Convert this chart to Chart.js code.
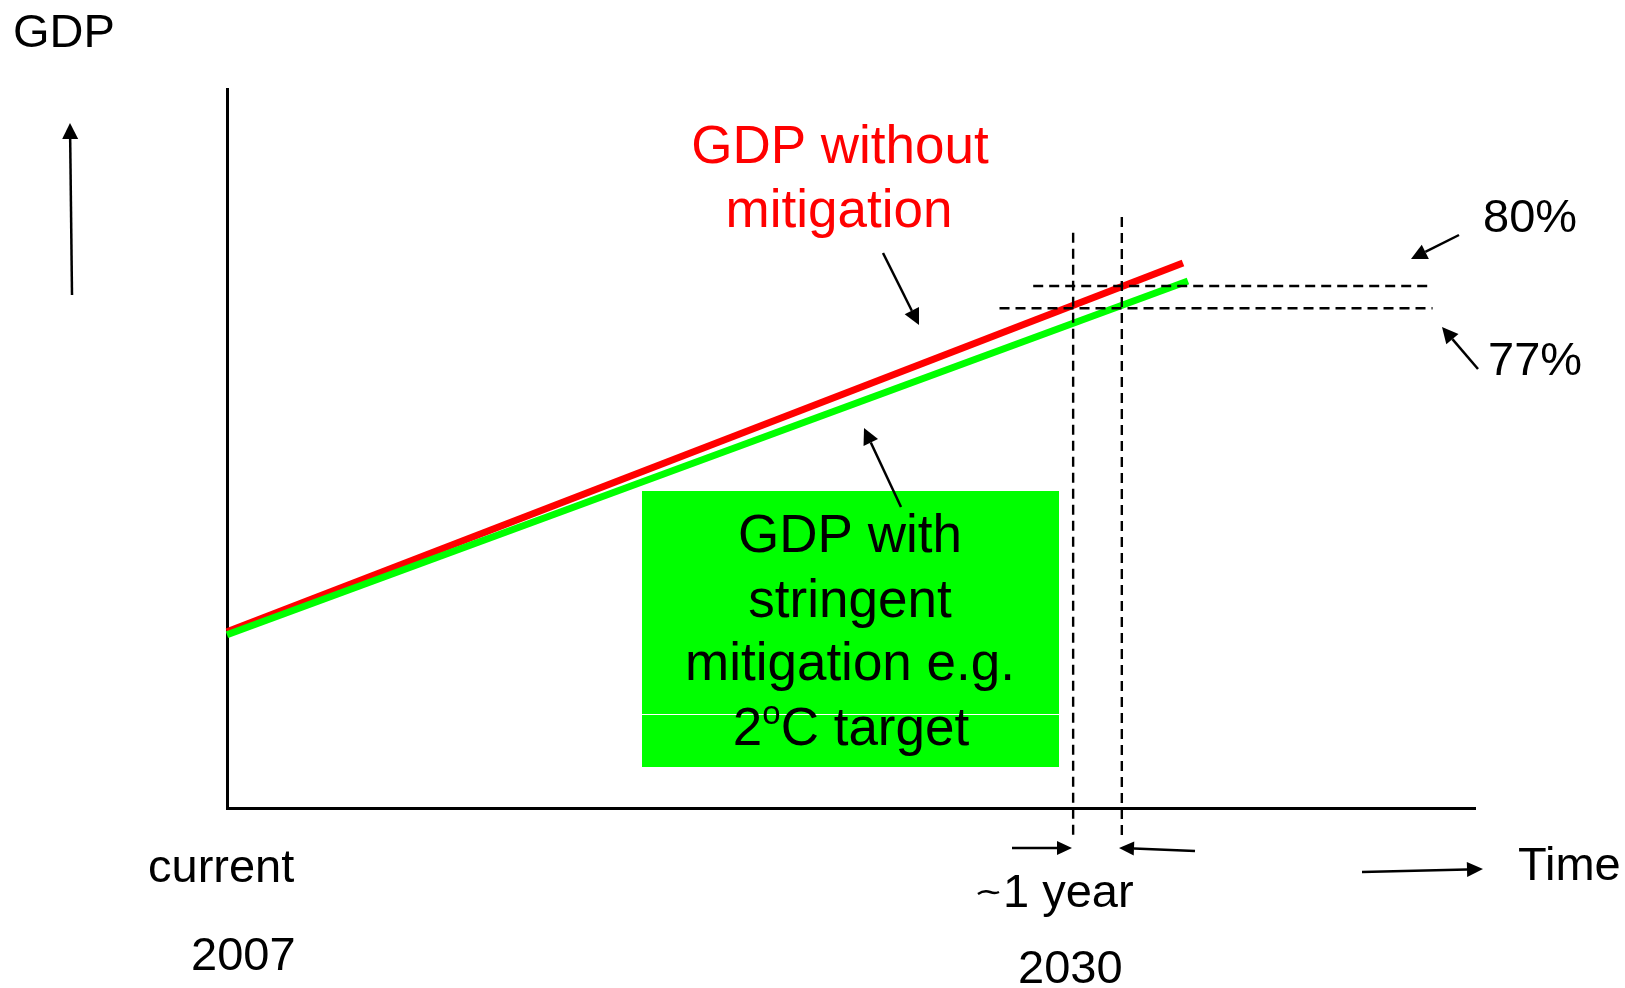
<!DOCTYPE html>
<html>
<head>
<meta charset="utf-8">
<script src="https://cdn.jsdelivr.net/npm/chart.js@4.4.1/dist/chart.umd.min.js"></script>
<style>
  html, body { margin: 0; padding: 0; background: #ffffff; overflow: hidden; }
  #wrap { width: 1625px; height: 988px; position: relative; }
</style>
</head>
<body>
<div id="wrap"><canvas id="c" width="1625" height="988"></canvas></div>
<script>
// Schematic time axis (0 = current year) and GDP in arbitrary index units
const timeWithout = [0, 76.6];
const gdpWithout = [24.5, 75.8];
const timeWith = [0, 77.0];
const gdpWith = [24.1, 73.3];

// Times at which GDP reaches the marked levels (2030, and about one year later)
const markTimes = [67.8, 71.7];
// GDP levels marked by the horizontal guides
const markLevels = [72.6, 69.5];
const levelLabels = ['80%', '77%'];

const axisLabels = { y: 'GDP', x: 'Time' };
const timeLabels = ['current', '2007', '2030', '1 year'];
const seriesLabels = ['GDP without', 'mitigation'];
const boxLabels = ['GDP with', 'stringent', 'mitigation e.g.'];

const FONT = "'Liberation Sans', Arial, sans-serif";

function toPoints(xs, ys) {
  return xs.map((x, i) => ({ x: x, y: ys[i] }));
}

function arrow(ctx, x1, y1, x2, y2, opts) {
  const o = Object.assign({ width: 2.5, head: 15, half: 7.5 }, opts || {});
  const ang = Math.atan2(y2 - y1, x2 - x1);
  const bx = x2 - o.head * Math.cos(ang);
  const by = y2 - o.head * Math.sin(ang);
  ctx.save();
  ctx.strokeStyle = '#000';
  ctx.fillStyle = '#000';
  ctx.lineWidth = o.width;
  ctx.beginPath();
  ctx.moveTo(x1, y1);
  ctx.lineTo(bx, by);
  ctx.stroke();
  ctx.beginPath();
  ctx.moveTo(x2, y2);
  ctx.lineTo(bx + o.half * Math.sin(ang), by - o.half * Math.cos(ang));
  ctx.lineTo(bx - o.half * Math.sin(ang), by + o.half * Math.cos(ang));
  ctx.closePath();
  ctx.fill();
  ctx.restore();
}

function text(ctx, s, x, y, size, color, align) {
  ctx.save();
  ctx.font = size + 'px ' + FONT;
  ctx.fillStyle = color || '#000';
  ctx.textAlign = align || 'left';
  ctx.textBaseline = 'alphabetic';
  ctx.fillText(s, x, y);
  ctx.restore();
}

// Green callout box drawn beneath the lines
const calloutBox = {
  id: 'calloutBox',
  beforeDatasetsDraw(chart) {
    const ctx = chart.ctx;
    ctx.save();
    ctx.fillStyle = '#00ff00';
    ctx.fillRect(642, 491, 417, 276);
    ctx.fillStyle = '#ffffff';
    ctx.fillRect(642, 714, 417, 1);
    ctx.restore();
  }
};

// Guides, arrows and text labels
const annotations = {
  id: 'annotations',
  afterDraw(chart) {
    const ctx = chart.ctx;
    const xs = chart.scales.x;
    const ys = chart.scales.y;

    // dashed guides
    ctx.save();
    ctx.strokeStyle = '#000';
    ctx.lineWidth = 2.4;
    ctx.setLineDash([10, 6]);
    const vTop = [80.0, 82.2];
    const vBottom = [-4.5, -4.2];
    markTimes.forEach((t, i) => {
      const px = xs.getPixelForValue(t);
      ctx.beginPath();
      ctx.moveTo(px, ys.getPixelForValue(vTop[i]));
      ctx.lineTo(px, ys.getPixelForValue(vBottom[i]));
      ctx.stroke();
    });
    const hStart = [64.6, 61.9];
    const hEnd = [96.3, 96.6];
    markLevels.forEach((v, i) => {
      const py = ys.getPixelForValue(v);
      ctx.beginPath();
      ctx.moveTo(xs.getPixelForValue(hStart[i]), py);
      ctx.lineTo(xs.getPixelForValue(hEnd[i]), py);
      ctx.stroke();
    });
    ctx.restore();

    // axis direction arrows
    arrow(ctx, 72, 295, 70, 123, { head: 16, half: 8 });
    arrow(ctx, 1362, 872, 1483, 869, { head: 16, half: 7.5 });

    // "~1 year" bracket arrows
    arrow(ctx, 1012, 848, 1072, 848, { head: 15, half: 7 });
    arrow(ctx, 1195, 851, 1119, 848, { head: 15, half: 7 });

    // level arrows
    arrow(ctx, 1459, 235, 1411, 259, { head: 16, half: 8 });
    arrow(ctx, 1478, 369, 1442, 327, { head: 16, half: 8 });

    // series pointers
    arrow(ctx, 883, 253, 919, 325, { head: 16, half: 8 });
    arrow(ctx, 901, 507, 864, 428, { head: 16, half: 8 });

    // texts
    text(ctx, axisLabels.y, 13, 47, 47);
    text(ctx, axisLabels.x, 1518, 880, 47);
    text(ctx, timeLabels[0], 148, 882, 47);
    text(ctx, timeLabels[1], 191, 970, 47);
    text(ctx, timeLabels[2], 1018, 983, 47);
    text(ctx, timeLabels[3], 1003, 907, 47);

    // small tilde before "1 year"
    ctx.save();
    ctx.strokeStyle = '#000';
    ctx.lineWidth = 2.5;
    ctx.beginPath();
    ctx.moveTo(978, 894);
    ctx.quadraticCurveTo(984, 890, 990, 892);
    ctx.quadraticCurveTo(995, 894, 999, 892);
    ctx.stroke();
    ctx.restore();

    text(ctx, levelLabels[0], 1483, 232, 47);
    text(ctx, levelLabels[1], 1488, 375, 47);

    text(ctx, seriesLabels[0], 840, 163, 53, '#ff0000', 'center');
    text(ctx, seriesLabels[1], 839, 227, 53, '#ff0000', 'center');

    text(ctx, boxLabels[0], 850, 552, 53, '#000', 'center');
    text(ctx, boxLabels[1], 850, 617, 53, '#000', 'center');
    text(ctx, boxLabels[2], 850, 680, 53, '#000', 'center');

    // "2ºC target" with superscript degree mark
    ctx.save();
    ctx.fillStyle = '#000';
    ctx.textBaseline = 'alphabetic';
    ctx.font = '53px ' + FONT;
    const wTwo = ctx.measureText('2').width;
    const wRest = ctx.measureText('C target').width;
    ctx.font = '33px ' + FONT;
    const wSup = ctx.measureText('o').width;
    const total = wTwo + wSup + wRest;
    let x0 = 851 - total / 2;
    ctx.font = '53px ' + FONT;
    ctx.fillText('2', x0, 745);
    ctx.font = '33px ' + FONT;
    ctx.fillText('o', x0 + wTwo, 724);
    ctx.font = '53px ' + FONT;
    ctx.fillText('C target', x0 + wTwo + wSup, 745);
    ctx.restore();
  }
};

new Chart(document.getElementById('c'), {
  type: 'line',
  data: {
    datasets: [
      {
        label: 'GDP with stringent mitigation',
        data: toPoints(timeWith, gdpWith),
        borderColor: '#00ff00',
        borderWidth: 7,
        borderCapStyle: 'butt',
        pointRadius: 0,
        tension: 0,
        order: 0
      },
      {
        label: 'GDP without mitigation',
        data: toPoints(timeWithout, gdpWithout),
        borderColor: '#ff0000',
        borderWidth: 7,
        borderCapStyle: 'butt',
        pointRadius: 0,
        tension: 0,
        order: 1
      }
    ]
  },
  options: {
    responsive: false,
    animation: false,
    events: [],
    layout: { padding: { left: 227, top: 89, right: 150, bottom: 180 }, autoPadding: false },
    plugins: { legend: { display: false }, tooltip: { enabled: false }, title: { display: false } },
    scales: {
      x: {
        type: 'linear', min: 0, max: 100,
        grid: { display: false, drawTicks: false, tickLength: 0 },
        ticks: { display: false },
        border: { display: true, color: '#000', width: 3 }
      },
      y: {
        type: 'linear', min: 0, max: 100,
        grid: { display: false, drawTicks: false, tickLength: 0 },
        ticks: { display: false },
        border: { display: true, color: '#000', width: 3 }
      }
    },
    datasets: { line: { clip: false } }
  },
  plugins: [calloutBox, annotations]
});
</script>
</body>
</html>
